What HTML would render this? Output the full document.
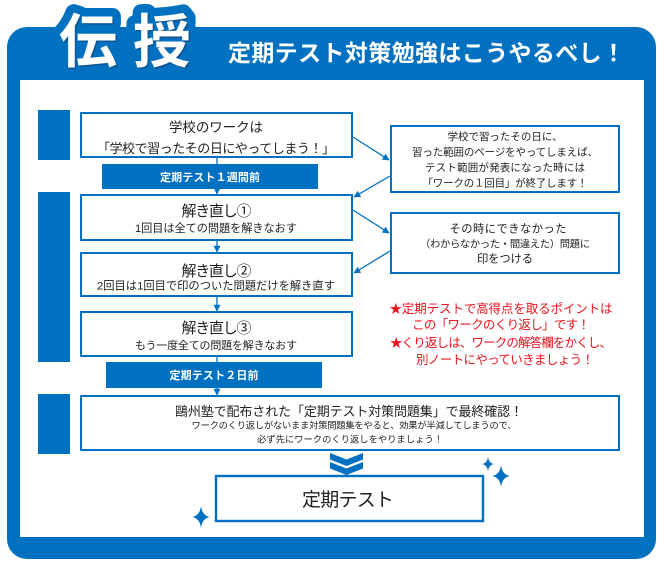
<!DOCTYPE html>
<html>
<head>
<meta charset="utf-8">
<style>
  html, body { margin:0; padding:0; background:#fff; }
  svg { display:block; }
</style>
</head>
<body>
<svg width="665" height="569" viewBox="0 0 665 569" xmlns="http://www.w3.org/2000/svg" font-family="'Liberation Sans','Noto Sans CJK JP',sans-serif">
  <defs>
    <marker id="ah" viewBox="0 0 10 10" refX="9" refY="5" markerWidth="7" markerHeight="7" markerUnits="userSpaceOnUse" orient="auto">
      <path d="M0,0 L10,5 L0,10 Z" fill="#0070C0"/>
    </marker>
  </defs>

  <!-- outer frame -->
  <rect x="7" y="27" width="649" height="532" rx="20" ry="20" fill="#0070C0"/>
  <rect x="20" y="80" width="624" height="457" fill="#ffffff"/>

  <!-- header 伝授 bump -->
  <g font-weight="bold" font-size="58" text-anchor="middle">
    <text x="88" y="62" fill="#0070C0" stroke="#0070C0" stroke-width="17" stroke-linejoin="round">伝</text>
    <text x="162" y="62" fill="#0070C0" stroke="#0070C0" stroke-width="17" stroke-linejoin="round">授</text>
    <rect x="60" y="50" width="130" height="30" fill="#0070C0"/>
    <text x="89.5" y="63.5" fill="#1b3d63" opacity="0.5">伝</text>
    <text x="163.5" y="63.5" fill="#1b3d63" opacity="0.5">授</text>
    <text x="88" y="62" fill="#ffffff">伝</text>
    <text x="162" y="62" fill="#ffffff">授</text>
  </g>

  <!-- title -->
  <text x="228" y="61" font-size="23" font-weight="bold" fill="#ffffff" textLength="397" lengthAdjust="spacing">定期テスト対策勉強はこうやるべし！</text>

  <!-- left bars -->
  <rect x="38" y="110" width="32" height="50" fill="#0070C0"/>
  <rect x="38" y="192" width="32" height="170" fill="#0070C0"/>
  <rect x="38" y="394" width="32" height="60" fill="#0070C0"/>

  <!-- small vertical connectors -->
  <g stroke="#0070C0" stroke-width="1.3" fill="none">
    <line x1="217" y1="158" x2="217" y2="164"/>
    <line x1="217" y1="189" x2="217" y2="194" marker-end="url(#ah)"/>
    <line x1="217" y1="241" x2="217" y2="252" marker-end="url(#ah)"/>
    <line x1="217" y1="297" x2="217" y2="311" marker-end="url(#ah)"/>
    <line x1="217" y1="357" x2="217" y2="362"/>
    <line x1="217" y1="388" x2="217" y2="395" marker-end="url(#ah)"/>
  </g>

  <!-- main boxes -->
  <g fill="#ffffff" stroke="#0070C0" stroke-width="2">
    <rect x="81" y="113" width="271" height="44"/>
    <rect x="81" y="195" width="271" height="45"/>
    <rect x="81" y="253" width="271" height="43"/>
    <rect x="81" y="312" width="271" height="44"/>
    <rect x="81" y="396" width="538" height="54"/>
    <rect x="391" y="126" width="228" height="66"/>
    <rect x="391" y="213" width="228" height="60"/>
    <rect x="216" y="476" width="267" height="45" stroke-width="2.4"/>
  </g>

  <!-- bands -->
  <rect x="102" y="164" width="216" height="25" fill="#0070C0"/>
  <rect x="106" y="362" width="216" height="26" fill="#0070C0"/>
  <g fill="#ffffff" font-weight="bold" font-size="11" text-anchor="middle">
    <text x="210" y="181" textLength="100" lengthAdjust="spacing">定期テスト１週間前</text>
    <text x="214" y="379" textLength="89" lengthAdjust="spacing">定期テスト２日前</text>
  </g>

  <!-- diagonal connectors -->
  <g stroke="#0070C0" stroke-width="1.3" fill="none">
    <line x1="353" y1="137" x2="389" y2="160" marker-end="url(#ah)"/>
    <line x1="390" y1="176" x2="354" y2="197" marker-end="url(#ah)"/>
    <line x1="353" y1="210" x2="389" y2="233" marker-end="url(#ah)"/>
    <line x1="390" y1="251" x2="354" y2="273" marker-end="url(#ah)"/>
  </g>

  <!-- box texts -->
  <g fill="#222222" text-anchor="middle">
    <text x="216" y="132" font-size="13.5" textLength="94" lengthAdjust="spacing">学校のワークは</text>
    <text x="216" y="153" font-size="13" textLength="238" lengthAdjust="spacing">「学校で習ったその日にやってしまう！」</text>

    <text x="216.5" y="216" font-size="15" textLength="70" lengthAdjust="spacing">解き直し①</text>
    <text x="216" y="232" font-size="11.2" textLength="162" lengthAdjust="spacing">1回目は全ての問題を解きなおす</text>

    <text x="216.5" y="276" font-size="15" textLength="70" lengthAdjust="spacing">解き直し②</text>
    <text x="216" y="289.5" font-size="11.3" textLength="238" lengthAdjust="spacing">2回目は1回目で印のついた問題だけを解き直す</text>

    <text x="216.5" y="333" font-size="15" textLength="70" lengthAdjust="spacing">解き直し③</text>
    <text x="216" y="349" font-size="11" textLength="162" lengthAdjust="spacing">もう一度全ての問題を解きなおす</text>

    <text x="349" y="416" font-size="13" textLength="348" lengthAdjust="spacing">鷗州塾で配布された「定期テスト対策問題集」で最終確認！</text>
    <text x="354" y="428.5" font-size="9.3" textLength="325" lengthAdjust="spacing">ワークのくり返しがないまま対策問題集をやると、効果が半減してしまうので、</text>
    <text x="350" y="442.5" font-size="9.3" textLength="186" lengthAdjust="spacing">必ず先にワークのくり返しをやりましょう！</text>

    <text x="505" y="140" font-size="10.5" textLength="115" lengthAdjust="spacing">学校で習ったその日に、</text>
    <text x="505" y="155.5" font-size="10.5" textLength="186" lengthAdjust="spacing">習った範囲のページをやってしまえば、</text>
    <text x="505" y="171" font-size="10.5" textLength="160" lengthAdjust="spacing">テスト範囲が発表になった時には</text>
    <text x="505" y="186.5" font-size="10.5" textLength="165" lengthAdjust="spacing">「ワークの１回目」が終了します！</text>

    <text x="508" y="232.5" font-size="11.3" textLength="117" lengthAdjust="spacing">その時にできなかった</text>
    <text x="505" y="247.5" font-size="10.3" textLength="170" lengthAdjust="spacing">（わからなかった・間違えた）問題に</text>
    <text x="505" y="262.5" font-size="11.3" textLength="56" lengthAdjust="spacing">印をつける</text>

    <text x="348" y="506" font-size="19" textLength="92" lengthAdjust="spacing">定期テスト</text>
  </g>

  <!-- red text -->
  <g fill="#e8141e" text-anchor="middle" font-size="12.5">
    <text x="501" y="313" textLength="223" lengthAdjust="spacing">★定期テストで高得点を取るポイントは</text>
    <text x="501" y="329" textLength="178" lengthAdjust="spacing">この「ワークのくり返し」です！</text>
    <text x="501" y="347" textLength="222" lengthAdjust="spacing">★くり返しは、ワークの解答欄をかくし、</text>
    <text x="505" y="364" textLength="178" lengthAdjust="spacing">別ノートにやっていきましょう！</text>
  </g>

  <!-- chevrons -->
  <g fill="#0070C0">
    <polygon points="330,453 346.5,459.5 363,453 363,459.5 346.5,466 330,459.5"/>
    <polygon points="330,462 346.5,468.5 363,462 363,468.5 346.5,475 330,468.5"/>
  </g>

  <!-- sparkles -->
  <g fill="#0070C0">
    <path d="M501,465 Q502.2,474.8 510,476 Q502.2,477.2 501,487 Q499.8,477.2 492,476 Q499.8,474.8 501,465 Z"/>
    <path d="M488,457 Q488.8,463.2 494,464 Q488.8,464.8 488,471 Q487.2,464.8 482,464 Q487.2,463.2 488,457 Z"/>
    <path d="M201,506 Q202.2,515.8 210,517 Q202.2,518.2 201,528 Q199.8,518.2 192,517 Q199.8,515.8 201,506 Z"/>
  </g>
</svg>
</body>
</html>
